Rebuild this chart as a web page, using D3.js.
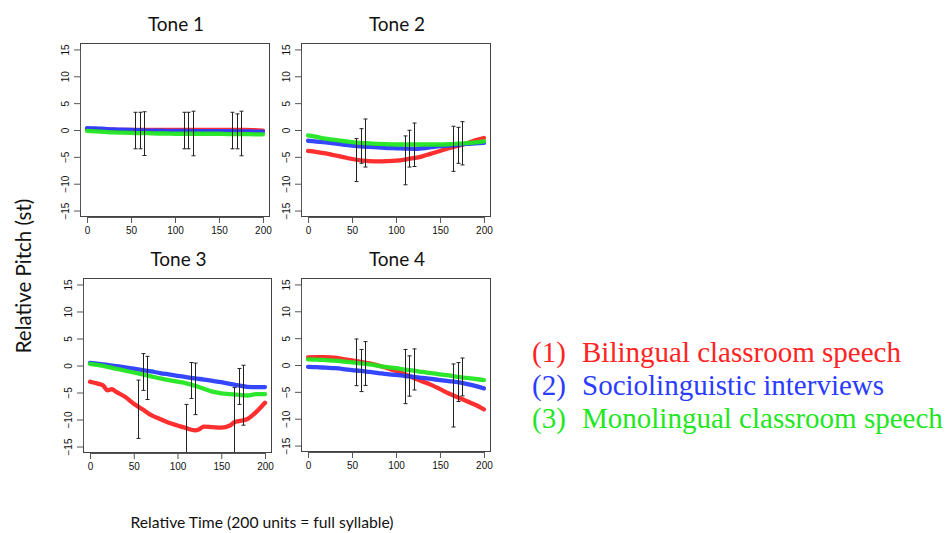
<!DOCTYPE html>
<html>
<head>
<meta charset="utf-8">
<script src="https://cdn.jsdelivr.net/npm/d3@7"></script>
<style>
  body { margin: 0; background: #fff; }
  svg { display: block; }
</style>
</head>
<body>
<div id="chart-area"></div>
<script>
// data (relative pitch in semitones over 200 time units)
var timeX = [0,10,20,30,40,50,60,70,80,90,100,110,120,130,140,150,160,170,180,190,200];
var tone3RedX = [0,5,10,15,20,25,30,40,50,60,70,80,90,100,110,120,125,130,140,150,160,165,170,180,190,200];

var tone1Red   = [0.2,0.15,0.1,0.05,0,0,0,0,0,0,0,0,0,0,0,0,0,0,0,-0.05,-0.1];
var tone1Blue  = [0.35,0.3,0.2,0.1,0.05,0,-0.05,-0.1,-0.1,-0.15,-0.15,-0.15,-0.2,-0.2,-0.2,-0.2,-0.2,-0.25,-0.25,-0.3,-0.3];
var tone1Green = [-0.15,-0.25,-0.35,-0.45,-0.5,-0.55,-0.6,-0.6,-0.65,-0.65,-0.7,-0.7,-0.7,-0.7,-0.7,-0.7,-0.75,-0.75,-0.75,-0.8,-0.8];

var tone2Red   = [-3.9,-4.1,-4.35,-4.7,-5.05,-5.4,-5.65,-5.8,-5.85,-5.8,-5.7,-5.5,-5.25,-4.9,-4.4,-3.9,-3.4,-2.95,-2.5,-1.9,-1.5];
var tone2Blue  = [-2.0,-2.15,-2.3,-2.5,-2.7,-2.9,-3.05,-3.15,-3.25,-3.35,-3.4,-3.45,-3.5,-3.4,-3.2,-3.0,-2.9,-2.75,-2.6,-2.5,-2.4];
var tone2Green = [-1.0,-1.3,-1.6,-1.85,-2.05,-2.25,-2.4,-2.5,-2.6,-2.65,-2.7,-2.7,-2.7,-2.7,-2.7,-2.7,-2.65,-2.55,-2.45,-2.3,-2.1];

var tone3Red   = [-3.0,-3.2,-3.4,-3.7,-4.6,-4.4,-4.9,-5.8,-7.1,-8.1,-9.2,-9.9,-10.6,-11.1,-11.6,-12.0,-11.8,-11.3,-11.4,-11.5,-11.1,-10.5,-10.3,-9.9,-8.6,-6.9];
var tone3Blue  = [0.5,0.3,0.1,-0.1,-0.35,-0.6,-0.85,-1.1,-1.4,-1.65,-1.9,-2.15,-2.4,-2.6,-2.85,-3.1,-3.4,-3.7,-3.95,-4.0,-4.0];
var tone3Green = [0.3,0.05,-0.25,-0.6,-0.95,-1.3,-1.65,-2.0,-2.4,-2.7,-3.0,-3.3,-3.75,-4.3,-4.85,-5.15,-5.3,-5.45,-5.55,-5.3,-5.3];

var tone4Red   = [1.4,1.45,1.45,1.35,1.1,0.85,0.6,0.3,-0.1,-0.6,-1.1,-1.7,-2.4,-3.05,-3.7,-4.5,-5.3,-6.0,-6.7,-7.4,-8.25];
var tone4Blue  = [-0.35,-0.4,-0.5,-0.6,-0.75,-0.95,-1.1,-1.3,-1.5,-1.7,-1.85,-2.05,-2.2,-2.4,-2.6,-2.8,-3.0,-3.2,-3.5,-3.9,-4.35];
var tone4Green = [1.05,1.0,0.9,0.8,0.65,0.5,0.3,0.1,-0.15,-0.4,-0.6,-0.85,-1.05,-1.3,-1.5,-1.75,-1.95,-2.2,-2.4,-2.6,-2.8];

// error bars
var errX = [55,60,65,110,115,120,165,170,175];
var tone1Hi = [3.3,3.3,3.4,3.3,3.3,3.5,3.3,3.0,3.5];
var tone1Lo = [-3.5,-3.5,-4.75,-3.5,-3.5,-4.8,-3.5,-3.5,-4.8];
var tone2Hi = [-1.6,0.25,2.05,-1.1,-0.05,1.3,0.7,0.5,1.55];
var tone2Lo = [-9.6,-6.2,-6.9,-10.2,-6.9,-6.8,-7.7,-6.2,-6.5];
var tone3Hi = [-2.7,2.2,1.7,-7.2,0.55,0.45,-4.1,-0.55,0.05];
var tone3Lo = [-13.5,-4.6,-6.3,-18,-6.1,-9.1,-18,-7.2,-11.05];
var tone4Hi = [4.85,2.9,4.35,2.9,1.7,3.0,0.2,0.45,1.3];
var tone4Lo = [-3.85,-4.95,-3.8,-7.2,-5.8,-4.65,-11.55,-6.8,-5.75];

var xTicks = [0,50,100,150,200];
var yTicks = [-15,-10,-5,0,5,10,15];
var legendNums = ["(1)","(2)","(3)"];
var legendNames = ["Bilingual classroom speech","Sociolinguistic interviews","Monolingual classroom speech"];
var seriesColors = ["#ff2424","#2a3cff","#22e622"];

var panels = [
    {title: "Tone 1", left: 80, top: 43, width: 190, height: 174, titleY: -12,
     series: [tone1Red, tone1Blue, tone1Green], hi: tone1Hi, lo: tone1Lo},
    {title: "Tone 2", left: 301, top: 43, width: 190, height: 174, titleY: -12,
     series: [tone2Red, tone2Blue, tone2Green], hi: tone2Hi, lo: tone2Lo},
    {title: "Tone 3", left: 83, top: 278, width: 189, height: 175, titleY: -12,
     series: [tone3Red, tone3Blue, tone3Green], hi: tone3Hi, lo: tone3Lo, redX: tone3RedX},
    {title: "Tone 4", left: 301, top: 278, width: 190, height: 174, titleY: -12,
     series: [tone4Red, tone4Blue, tone4Green], hi: tone4Hi, lo: tone4Lo}
];

var svg = d3.select("#chart-area")
    .append("svg")
        .attr("width", 947)
        .attr("height", 533);

var tickFont = "'Liberation Sans', Arial, sans-serif";
var labelFont = "Lato, 'Open Sans', sans-serif";

panels.forEach(function(p, idx){
    var g = svg.append("g")
        .attr("transform", "translate(" + p.left + "," + p.top + ")");

    var x = d3.scaleLinear().domain([-8, 208]).range([0, p.width]);
    var y = d3.scaleLinear().domain([-16.2, 16.2]).range([p.height, 0]);

    g.append("clipPath").attr("id", "clip" + idx)
        .append("rect").attr("width", p.width).attr("height", p.height);

    var plot = g.append("g").attr("clip-path", "url(#clip" + idx + ")");

    var line = d3.line()
        .x(function(d){ return x(d[0]); })
        .y(function(d){ return y(d[1]); })
        .curve(d3.curveMonotoneX);

    p.series.forEach(function(vals, i){
        var xs = (i == 0 && p.redX) ? p.redX : timeX;
        var pts = vals.map(function(v, j){ return [xs[j], v]; });
        plot.append("path")
            .attr("d", line(pts))
            .attr("fill", "none")
            .attr("stroke", seriesColors[i])
            .attr("stroke-width", 4.3)
            .attr("stroke-linecap", "round")
            .attr("stroke-linejoin", "round")
            .attr("opacity", 0.95);
    });

    // error bars
    errX.forEach(function(ex, i){
        var bx = Math.round(x(ex)) + 0.5;
        plot.append("line")
            .attr("x1", bx).attr("x2", bx)
            .attr("y1", y(p.hi[i])).attr("y2", y(p.lo[i]))
            .attr("stroke", "#222").attr("stroke-width", 1);
        [p.hi[i], p.lo[i]].forEach(function(v){
            plot.append("line")
                .attr("x1", bx - 2).attr("x2", bx + 2)
                .attr("y1", y(v)).attr("y2", y(v))
                .attr("stroke", "#222").attr("stroke-width", 1);
        });
    });

    // box
    g.append("rect")
        .attr("x", 0.5).attr("y", 0.5)
        .attr("width", p.width - 1).attr("height", p.height - 1)
        .attr("fill", "none")
        .attr("stroke", "#444")
        .attr("stroke-width", 1);

    var xAxisCall = d3.axisBottom(x).tickValues(xTicks).tickSize(6).tickPadding(4);
    var xAxis = g.append("g")
        .attr("transform", "translate(0," + p.height + ")")
        .call(xAxisCall);
    xAxis.select(".domain").attr("stroke", "#555")
        .attr("d", "M" + x(0) + ",0.5H" + x(200));
    xAxis.selectAll(".tick line").attr("stroke", "#555");
    xAxis.selectAll("text")
        .attr("font-family", tickFont).attr("font-size", "10px").attr("fill", "#111");

    var yAxisCall = d3.axisLeft(y).tickValues(yTicks).tickSize(6).tickPadding(4);
    var yAxis = g.append("g").call(yAxisCall);
    yAxis.select(".domain").attr("stroke", "#555")
        .attr("d", "M0.5," + y(-15) + "V" + y(15));
    yAxis.selectAll(".tick line").attr("stroke", "#555");
    yAxis.selectAll("text")
        .attr("font-family", tickFont).attr("font-size", "10px").attr("fill", "#111")
        .attr("text-anchor", "middle")
        .attr("x", -15).attr("y", 0).attr("dy", 0)
        .attr("dominant-baseline", "central")
        .attr("transform", "rotate(-90,-15,0)");

    g.append("text")
        .attr("x", p.width / 2 + 1)
        .attr("y", p.titleY)
        .attr("text-anchor", "middle")
        .attr("font-family", labelFont)
        .attr("font-size", "19px")
        .attr("fill", "#111")
        .text(p.title);
});

// axis labels
svg.append("text")
    .attr("x", 262)
    .attr("y", 528)
    .attr("text-anchor", "middle")
    .attr("font-family", labelFont)
    .attr("font-size", "15.7px")
    .attr("fill", "#111")
    .text("Relative Time (200 units = full syllable)");

svg.append("text")
    .attr("transform", "translate(31,276) rotate(-90)")
    .attr("text-anchor", "middle")
    .attr("font-family", labelFont)
    .attr("font-size", "20.5px")
    .attr("fill", "#111")
    .text("Relative Pitch (st)");

// legend
var legend = svg.append("g");
legendNames.forEach(function(name, i){
    var row = legend.append("text")
        .attr("y", 362 + i * 33)
        .attr("font-family", "'Liberation Serif', 'Times New Roman', serif")
        .attr("font-size", "29px")
        .attr("fill", seriesColors[i]);
    row.append("tspan").attr("x", 532).text(legendNums[i]);
    row.append("tspan").attr("x", 582).text(name);
});
</script>
</body>
</html>
